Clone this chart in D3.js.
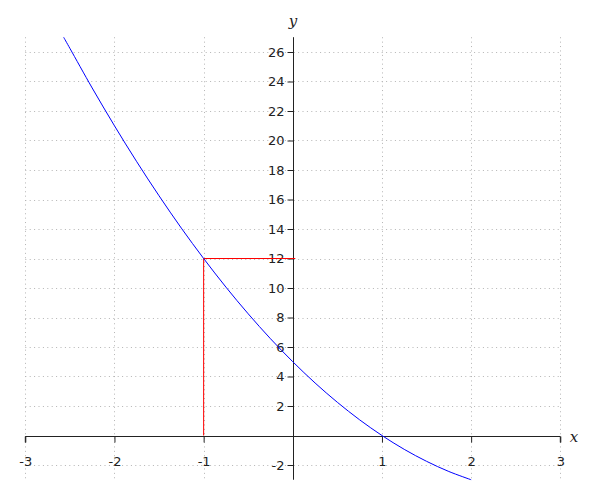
<!DOCTYPE html>
<html><head><meta charset="utf-8">
<script src="https://cdn.jsdelivr.net/npm/d3@7"></script>
<style>body{margin:0;background:#fff}</style>
</head><body>
<svg id="c" width="600" height="500"></svg>
<script>
const curveX = [-2.57,-2.5,-2.25,-2,-1.75,-1.5,-1.25,-1,-0.75,-0.5,-0.25,0,0.25,0.5,0.75,1,1.25,1.5,1.75,2];
const curveY = [27,26.25,23.56,21,18.56,16.25,14.06,12,10.06,8.25,6.56,5,3.56,2.25,1.06,0,-0.94,-1.75,-2.44,-3];
const xTicks = [-3,-2,-1,1,2,3];
const yTicks = [-2,2,4,6,8,10,12,14,16,18,20,22,24,26];
const gridX = [-3,-2,-1,0,1,2,3];
const gridY = [-2,0,2,4,6,8,10,12,14,16,18,20,22,24,26];
const markPoint = [-1, 12];

const svg = d3.select("#c");
const x = d3.scaleLinear().domain([-3,3]).range([25.3,560.3]);
const y = d3.scaleLinear().domain([-3,27]).range([479.75,37.25]);
const fmt = d => String(d);

const grid = svg.append("g").attr("stroke","#b4b4b4").attr("stroke-width",1).attr("stroke-dasharray","1,3.4");
grid.selectAll(".gx").data(gridX).join("line")
  .attr("x1",d=>Math.round(x(d))+0.5).attr("x2",d=>Math.round(x(d))+0.5)
  .attr("y1",y(27)).attr("y2",y(-3));
grid.selectAll(".gy").data(gridY).join("line")
  .attr("y1",d=>Math.round(y(d))+0.5).attr("y2",d=>Math.round(y(d))+0.5)
  .attr("x1",x(-3)).attr("x2",x(3));

// axes
const xAxis = d3.axisBottom(x).tickValues(xTicks).tickSize(6).tickFormat(fmt);
const gx = svg.append("g").attr("transform",`translate(0,${Math.round(y(0))+0.5})`).call(xAxis);
gx.select(".domain").attr("d",`M${x(-3)},6V0H${x(3)}V6`).attr("stroke","#222");
gx.selectAll(".tick line").attr("stroke","#222");
gx.selectAll(".tick text").attr("font-family","DejaVu Sans").attr("font-size",13).attr("fill","#222").attr("y",20);

const yAxis = d3.axisLeft(y).tickValues(yTicks).tickSize(6).tickFormat(fmt);
const gy = svg.append("g").attr("transform",`translate(${Math.round(x(0))+0.5},0)`).call(yAxis);
gy.select(".domain").attr("d",`M0,${y(27)}V${y(-3)}`).attr("stroke","#222");
gy.selectAll(".tick line").attr("stroke","#222");
gy.selectAll(".tick text").attr("font-family","DejaVu Sans").attr("font-size",13).attr("fill","#222").attr("x",-9);

// red guide lines
svg.append("line").attr("x1",x(markPoint[0])).attr("x2",x(0)+2.5)
  .attr("y1",y(markPoint[1])).attr("y2",y(markPoint[1])).attr("stroke","red").attr("stroke-width",1);
svg.append("line").attr("x1",x(markPoint[0])).attr("x2",x(markPoint[0]))
  .attr("y1",y(markPoint[1])).attr("y2",y(0)).attr("stroke","red").attr("stroke-width",1);

// curve
const pts = curveX.map((v,i)=>[v,curveY[i]]);
svg.append("path").datum(pts)
  .attr("d",d3.line().x(d=>x(d[0])).y(d=>y(d[1])).curve(d3.curveCatmullRom))
  .attr("fill","none").attr("stroke","blue").attr("stroke-width",1);

// axis labels
svg.append("text").attr("x",574).attr("y",442).attr("font-family","DejaVu Serif").attr("font-style","italic")
  .attr("font-size",15).attr("text-anchor","middle").attr("fill","#222").text("x");
svg.append("text").attr("x",293).attr("y",26).attr("font-family","DejaVu Serif").attr("font-style","italic")
  .attr("font-size",15).attr("text-anchor","middle").attr("fill","#222").text("y");
</script>
</body></html>
